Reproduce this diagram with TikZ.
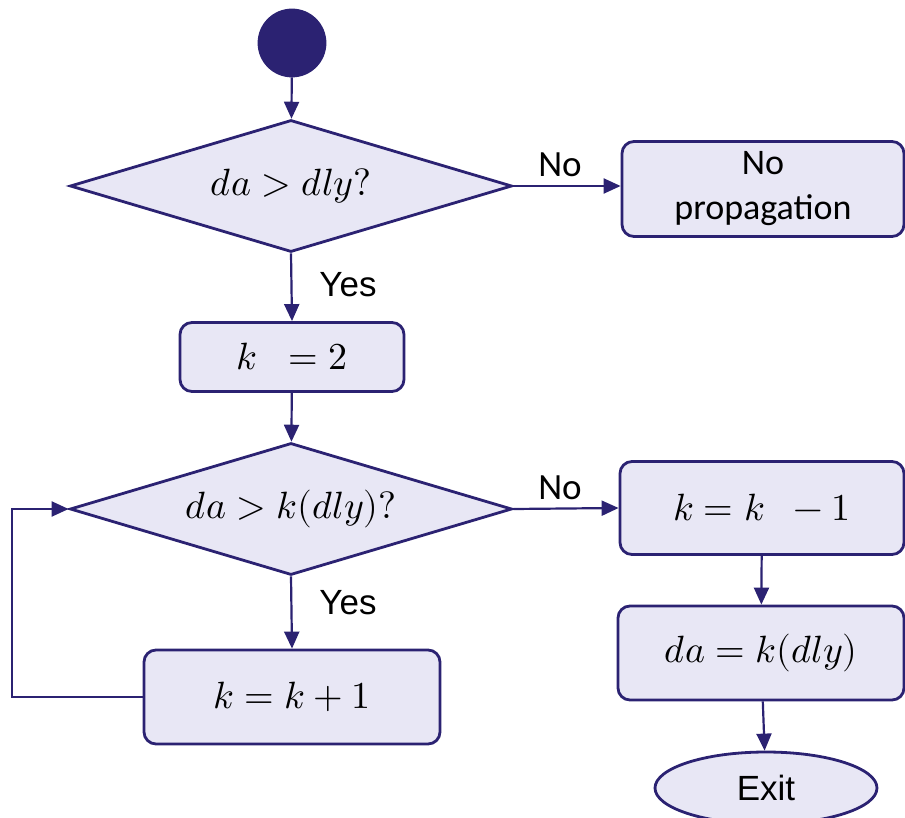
\documentclass[tikz,border=0pt]{standalone}
\usepackage{amsmath}
\usepackage{fontspec}
\usepackage{unicode-math}
\setmainfont{Liberation Sans}
\setmathfont{Latin Modern Math}
\newfontfamily\calfont{Carlito}
\usetikzlibrary{arrows.meta,shapes.geometric}
\definecolor{navy}{HTML}{2B2272}
\definecolor{lav}{HTML}{E8E7F5}

\begin{document}
\begin{tikzpicture}[x=1pt,y=-1pt,line width=2.8pt,
  box/.style={draw=navy,fill=lav,rounded corners=12pt,inner sep=0pt},
  decide/.style={draw=navy,fill=lav,diamond,aspect=3.35,inner sep=0pt,minimum width=442pt,minimum height=132pt},
  flow/.style={draw=navy,line width=2.2pt,-{Triangle[length=17pt,width=15pt]}},
  lbl/.style={font=\fontsize{35}{40}\selectfont},
  mth/.style={font=\fontsize{38}{44}\selectfont}]
  \useasboundingbox (0,0) rectangle (905,818);
  % start and first test
  \node[circle,draw=navy,fill=navy,minimum size=66pt,inner sep=0pt] (start) at (292,43) {};
  \node[decide,mth] (dly) at (291,186) {$da > dly?$};
  \node[box,minimum width=282pt,minimum height=95pt,align=center,
        font=\calfont\fontsize{36}{45}\selectfont] (nop) at (763,189) {No\\propagation};
  \node[box,mth,minimum width=224pt,minimum height=69pt] (ktwo) at (292,357) {$k\;\ = 2$};
  % loop test
  \node[decide,mth] (kdly) at (291,509) {$da > k(dly)?$};
  \node[box,mth,minimum width=296pt,minimum height=94pt] (kinc) at (292,697) {$k = k + 1$};
  \node[box,mth,minimum width=284pt,minimum height=93pt] (kdec) at (762,508) {$k = k\;\ - 1$};
  \node[box,mth,minimum width=286pt,minimum height=94pt] (dak) at (761,653) {$da = k(dly)$};
  \node[ellipse,draw=navy,fill=lav,minimum width=222pt,minimum height=72pt,inner sep=0pt,
        lbl] (exit) at (766,788) {Exit};
  \coordinate (back) at (12,697);
  % connectors
  \draw[flow] (start) -- (dly);
  \draw[flow] (dly.east) -- (dly.east -| nop.west);
  \draw[flow] (dly.south) -- (ktwo.north);
  \draw[flow] (ktwo) -- (kdly);
  \draw[flow] (kdly.south) -- (kinc.north);
  \draw[flow] (kinc.west) -- (back) |- (kdly.west);
  \draw[flow] (kdly.east) -- (kdec.west);
  \draw[flow] (kdec) -- (dak);
  \draw[flow] (dak) -- (exit);
  \node[font=\calfont\fontsize{37}{40}\selectfont] (no1) at (560,165) {No};
  \node[font=\calfont\fontsize{37}{40}\selectfont] (no2) at (560,488) {No};
  \node[lbl] (yes1) at (348,285) {Yes};
  \node[lbl] (yes2) at (348,603) {Yes};
\end{tikzpicture}
\end{document}
